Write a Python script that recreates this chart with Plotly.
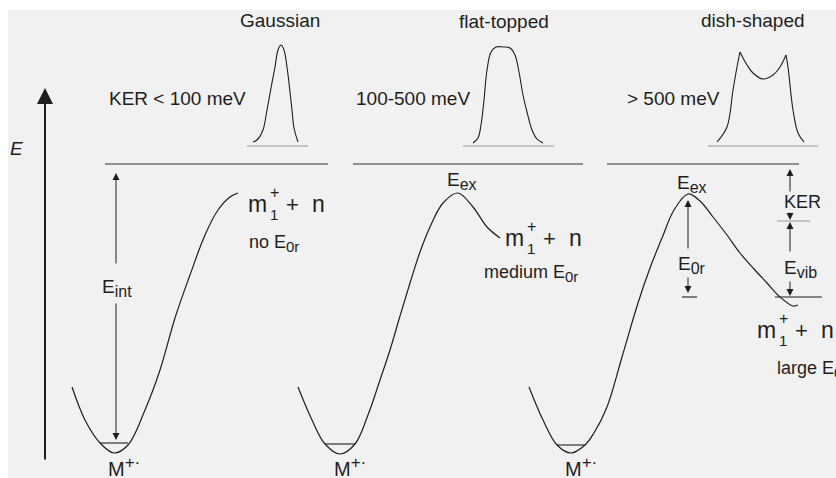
import plotly.graph_objects as go

FONT = "Liberation Sans, Arial, Helvetica, sans-serif"
INK = "#1e1e1e"
GREY_LINE = "#9a9a9a"
BG = "#f1f1f1"

def sub(t, px=15):
    return '<sub><span style="font-size:%dpx">%s</span></sub>' % (px, t)

def sup(t, px=16):
    return '<sup><span style="font-size:%dpx">%s</span></sup>' % (px, t)

# ---------------- data ----------------
panel_titles = ["Gaussian", "flat-topped", "dish-shaped"]
ker_labels = ["KER < 100 meV", "100-500 meV", "> 500 meV"]
e0r_labels = ["no E" + sub("0r"), "medium E" + sub("0r"), "large E" + sub("0r")]

# potential-energy curves (schematic, image units)
pes1_x = [72, 85, 100, 114, 128, 145, 160, 175, 190, 205, 218, 230, 238]
pes1_y = [387, 420, 443, 453, 445, 410, 370, 318, 275, 235, 210, 197, 193]
pes2_x = [298, 312, 325, 340, 355, 368, 380, 390, 400, 410, 420, 430, 443, 458, 473, 487, 500]
pes2_y = [387, 420, 444, 454, 444, 415, 380, 350, 316, 283, 252, 227, 203, 193, 207, 227, 238]
pes3_x = [529, 543, 557, 571, 585, 594, 607, 622, 638, 650, 662, 674, 688, 700, 713, 727, 740, 754, 767, 780, 793, 798]
pes3_y = [387, 420, 445, 453, 445, 433, 407, 357, 303, 268, 238, 210, 194, 201, 217, 235, 253, 269, 283, 297, 306, 305]

# KER distributions (schematic peak shapes)
gauss_x = [253, 258, 263, 267, 271, 275, 278, 281, 284, 287, 290, 292, 294, 298]
gauss_y = [142, 139, 130, 110, 88, 67, 50, 45, 50, 67, 92, 110, 128, 142]
flat_x = [473, 478, 481, 484, 487, 491, 496, 503, 510, 515, 519, 523, 527, 532, 537, 543]
flat_y = [143, 138, 125, 100, 70, 52, 47, 47, 48, 55, 72, 95, 112, 130, 139, 143]
dish_x = [717, 727, 733, 737, 740, 747, 753, 763, 773, 780, 786, 788, 793, 798, 804]
dish_y = [142, 127, 90, 67, 52, 65, 73, 79, 75, 67, 55, 67, 110, 133, 142]
dish_cusps = [4, 10]  # indices of the two sharp maxima

# energy levels: [x0, x1, y]
threshold_levels = [[105, 328, 164], [353, 583, 164], [607, 799, 164]]
spectrum_baselines = [[247, 308, 146], [463, 554, 146], [708, 818, 146]]
vib_levels = [[100, 128, 443], [325, 355, 444], [557, 585, 445]]
product_level = [775, 822, 297]
ker_split_level = [777, 810, 221]
e0r_tick = [682, 697, 297]

fig = go.Figure()

def curve(xs, ys, color=INK, width=1.2, shape="spline"):
    fig.add_trace(go.Scatter(x=xs, y=ys, mode="lines",
                             line=dict(color=color, width=width, shape=shape, smoothing=1),
                             hoverinfo="skip", showlegend=False))

for xs, ys in [(pes1_x, pes1_y), (pes2_x, pes2_y), (pes3_x, pes3_y)]:
    curve(xs, ys)
for xs, ys in [(gauss_x, gauss_y), (flat_x, flat_y)]:
    curve(xs, ys, width=1.1)
bounds = [0] + dish_cusps + [len(dish_x) - 1]
for a, b in zip(bounds[:-1], bounds[1:]):
    curve(dish_x[a:b + 1], dish_y[a:b + 1], width=1.1)

for x0, x1, y in threshold_levels:
    curve([x0, x1], [y, y], color="#333333", width=1.2, shape="linear")
for x0, x1, y in spectrum_baselines:
    curve([x0, x1], [y, y], color=GREY_LINE, width=1.2, shape="linear")
for x0, x1, y in vib_levels:
    curve([x0, x1], [y, y], color=INK, width=1.1, shape="linear")
for x0, x1, y in [product_level, e0r_tick]:
    curve([x0, x1], [y, y], color=INK, width=1.1, shape="linear")
curve(ker_split_level[:2], [ker_split_level[2]] * 2, color=GREY_LINE, width=1.1, shape="linear")

def arrow(x, y_tail, y_head, size=1.4, width=1.0):
    fig.add_annotation(x=x, y=y_head, ax=x, ay=y_tail, xref="x", yref="y",
                       axref="x", ayref="y", text="", showarrow=True,
                       arrowhead=2, arrowsize=size, arrowwidth=width,
                       arrowcolor=INK, standoff=0)

# energy axis
arrow(45, 461, 88, size=1.6, width=2)
# E_int
arrow(116, 265, 173)
arrow(116, 302, 440)
# E0r
arrow(688, 250, 200)
arrow(688, 276, 293)
# KER and E_vib
arrow(790, 193, 169)
arrow(790, 211, 220)
arrow(790, 253, 222)
arrow(790, 280, 296)

def label(x, y, text, size=18, xanchor="center", italic=False):
    fig.add_annotation(x=x, y=y, xref="x", yref="y", text=text, showarrow=False,
                       xanchor=xanchor, yanchor="middle",
                       font=dict(family=FONT, size=size, color=INK,
                                 style="italic" if italic else "normal"))

for (x, y), t in zip([(280, 20), (504, 21), (753, 20)], panel_titles):
    label(x, y, t, size=19)
for (x, y), t in zip([(248, 98), (472, 98), (722, 98)], ker_labels):
    label(x, y, t, size=19, xanchor="right")
for (x, y), t in zip([(247, 243), (482, 273), (775, 369)], e0r_labels):
    label(x, y, t, size=18, xanchor="left")

label(16, 148, "E", size=19, italic=True)
label(117, 288, "E" + sub("int", 16), size=19)
label(462, 181, "E" + sub("ex", 16), size=19)
label(692, 184, "E" + sub("ex", 16), size=19)
label(692, 265, "E" + sub("0r", 16), size=19)
label(802, 202, "KER", size=18)
label(800, 269, "E" + sub("vib", 16), size=19)

for xm in [106, 332, 563]:
    label(xm, 466, "M" + sup("+·", 17), size=20, xanchor="left")

for mx, my in [(257, 204), (514, 238), (766, 330)]:
    label(mx, my, "m", size=23)
    label(mx + 17, my - 12, "+", size=16)
    label(mx + 17, my + 10, "1", size=15)
    label(mx + 35, my, "+", size=22)
    label(mx + 61, my, "n", size=23)

fig.add_shape(type="rect", xref="x", yref="y", x0=8, x1=836, y0=10, y1=478,
              fillcolor=BG, line=dict(width=0), layer="below")

fig.update_layout(
    width=836, height=478,
    margin=dict(l=0, r=0, t=0, b=0),
    paper_bgcolor="white", plot_bgcolor="white",
    xaxis=dict(range=[0, 836], visible=False, fixedrange=True),
    yaxis=dict(range=[478, 0], visible=False, fixedrange=True),
    showlegend=False,
)

fig.write_html("out.html")
